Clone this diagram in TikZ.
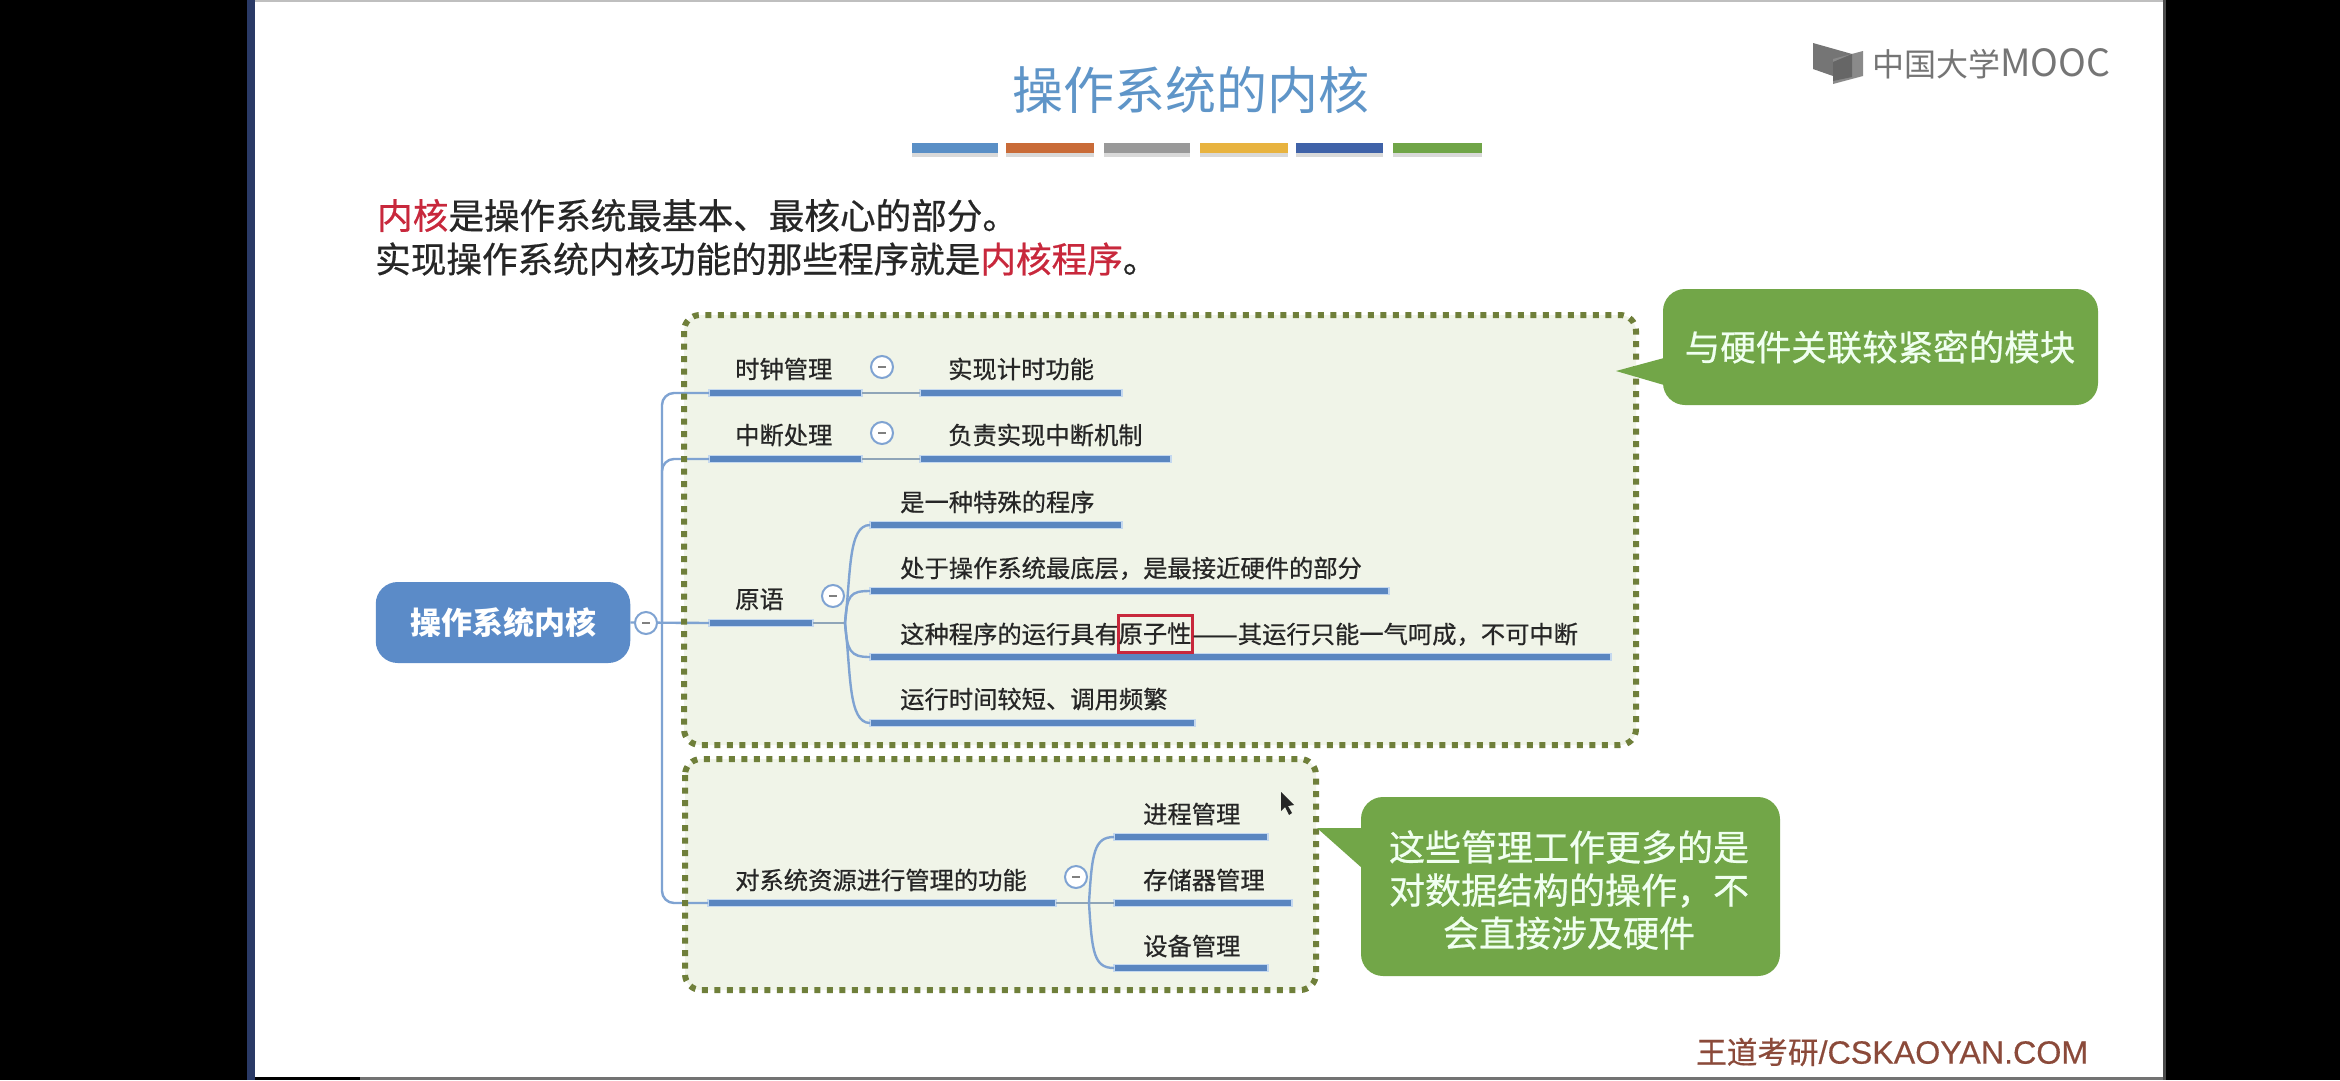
\documentclass[tikz,border=0pt]{standalone}
\usepackage{fontspec}
\setmainfont{Noto Sans CJK SC}
\newfontfamily\semib[FakeBold=0.6]{Noto Sans CJK SC}
\newfontfamily\wlat[FakeBold=0.4]{Liberation Sans}
\definecolor{titleblue}{HTML}{5F95C8}
\definecolor{kernred}{HTML}{C8283C}
\definecolor{barblue}{HTML}{5A86C0}
\definecolor{halo}{HTML}{C4D8EF}
\definecolor{thinblue}{HTML}{7FA3D2}
\definecolor{midgray}{HTML}{8FA5B8}
\definecolor{boxfill}{HTML}{F0F4E8}
\definecolor{boxdot}{HTML}{6F7F3A}
\definecolor{callgreen}{HTML}{72A648}
\definecolor{rootblue}{HTML}{5B8BC8}
\definecolor{navy}{HTML}{2A3A66}
\definecolor{wmark}{HTML}{8B4A3A}
\definecolor{logogray}{HTML}{757575}
\tikzset{
  ubar/.style={rectangle,anchor=west,fill=barblue,draw=halo,line width=1.2pt,minimum height=7.2pt,inner sep=0pt,outer sep=0pt},
  lab/.style={anchor=west,inner sep=0pt,text=black!85,font=\semib\fontsize{24.3}{29}\selectfont,text height=21.4pt,text depth=2.9pt},
  tog/.style={circle,draw=thinblue,line width=2pt,fill=white,minimum size=22pt,inner sep=0pt,
    path picture={\draw[gray,line width=1.6pt] ([xshift=-4pt]path picture bounding box.center) -- ([xshift=4pt]path picture bounding box.center);}},
  thin link/.style={draw=thinblue,line width=2.4pt},
  grey link/.style={draw=midgray,line width=2.4pt},
  dotbox/.style={rounded corners=16pt,draw=boxdot,line width=6pt,dash pattern=on 6pt off 6.5pt},
  callout/.style={rectangle,rounded corners=22pt,fill=callgreen,inner sep=0pt},
  calltext/.style={text=white!94!green,align=center,inner sep=0pt,font=\semib\fontsize{36}{43}\selectfont},
  body text/.style={anchor=west,inner sep=0pt,text=black!85,font=\semib\fontsize{35.6}{42}\selectfont}
}
\begin{document}
\begin{tikzpicture}[x=1pt,y=-1pt]
\useasboundingbox (0,0) rectangle (2340,1080);
% screen and slide
\fill[black] (0,0) rectangle (2340,1080);
\fill[navy] (247,0) rectangle (255,1080);
\fill[white] (255,0) rectangle (2163,1077);
\fill[black!25] (255,0) rectangle (2163,2);
\fill[black!55] (360,1077) rectangle (2166,1080);
\fill[black!70] (2163,0) rectangle (2166,1080);
% logo
\fill[logogray] (1813,43) -- (1852,54) -- (1833,76) -- (1813,69) -- cycle;
\fill[logogray!85] (1833,59) -- (1863,51) -- (1863,76) -- (1833,84) -- cycle;
\fill[black!60] (1833,62) -- (1852,54) -- (1852,77) -- (1833,81) -- cycle;
\node[anchor=west,inner sep=0pt,text=logogray,font=\fontsize{32}{36}\selectfont] (logo) at (1872,64) {中国大学{\fontsize{37.5}{36}\selectfont MOOC}};
% title
\node[inner sep=0pt,text=titleblue,font=\fontsize{51}{60}\selectfont] (title) at (1191,90) {操作系统的内核};
\foreach \a/\b/\c in {912/998/5A8FC6,1006/1094/C96B38,1104/1190/999999,1200/1288/E8B33F,1296/1383/3F62A8,1393/1482/70A548}{
  \definecolor{swc}{HTML}{\c}
  \fill[black!15] (\a,149) rectangle (\b,157);
  \fill[swc] (\a,143) rectangle (\b,153);
}
% intro text
\node[body text] (line1) at (377,215.5) {\textcolor{kernred}{内核}是操作系统最基本、最核心的部分。};
\node[body text] (line2) at (375,259) {实现操作系统内核功能的那些程序就是\textcolor{kernred}{内核程序}。};
% box fills
\fill[boxfill,rounded corners=16pt] (684,315) rectangle (1636,745);
\fill[boxfill,rounded corners=16pt] (685,759) rectangle (1316,990);
% root
\node[rectangle,rounded corners=22pt,fill=rootblue,text=white,minimum width=254.5pt,minimum height=81pt,inner sep=0pt,font=\bfseries\fontsize{31}{36}\selectfont] (root) at (503,622.5) {操作系统内核};
% bars
\node[ubar,minimum width=153pt] (b1) at (709,393) {};
\node[ubar,minimum width=202pt] (b1a) at (920,393) {};
\node[ubar,minimum width=153pt] (b2) at (709,459) {};
\node[ubar,minimum width=251pt] (b2a) at (920,459) {};
\node[ubar,minimum width=104pt] (b3) at (709,623) {};
\node[ubar,minimum width=252pt] (p1) at (870,525) {};
\node[ubar,minimum width=519pt] (p2) at (870,591) {};
\node[ubar,minimum width=741pt] (p3) at (870,657) {};
\node[ubar,minimum width=325pt] (p4) at (870,723) {};
\node[ubar,minimum width=348pt] (b4) at (708,903) {};
\node[ubar,minimum width=154pt] (q1) at (1114,837) {};
\node[ubar,minimum width=178pt] (q2) at (1114,903) {};
\node[ubar,minimum width=154pt] (q3) at (1114,968) {};
\coordinate (trunk) at (662,623);
\coordinate (j3) at (845,623);
\coordinate (j4) at (1089,903);
% connectors
\draw[thin link] (root.east) -- (b3.west);
\draw[thin link,rounded corners=12pt] (trunk) |- (b1.west);
\draw[thin link,rounded corners=12pt] (trunk) |- (b2.west);
\draw[thin link,rounded corners=12pt] (trunk) |- (b4.west);
\draw[grey link] (b1.east) -- (b1a.west);
\draw[grey link] (b2.east) -- (b2a.west);
\draw[grey link] (b3.east) -- (j3);
\draw[grey link] (b4.east) -- (q2.west);
\draw[thin link] (j3) .. controls +(6,-50) and +(-22,0) .. (p1.west);
\draw[thin link] (j3) .. controls +(2,-28) and +(-20,0) .. (p2.west);
\draw[thin link] (j3) .. controls +(2,28) and +(-20,0) .. (p3.west);
\draw[thin link] (j3) .. controls +(6,50) and +(-22,0) .. (p4.west);
\draw[thin link] (j4) .. controls +(3,-50) and +(-20,0) .. (q1.west);
\draw[thin link] (j4) .. controls +(3,50) and +(-20,0) .. (q3.west);
% toggles
\node[tog] (t0) at (646,623) {};
\node[tog] (t1) at (882,367) {};
\node[tog] (t2) at (882,433) {};
\node[tog] (t3) at (833,596) {};
\node[tog] (t4) at (1076,877) {};
% dotted borders
\draw[dotbox] (684,315) rectangle (1636,745);
\draw[dotbox] (685,759) rectangle (1316,990);
% labels
\node[lab] (l1) at (735,369) {时钟管理};
\node[lab] (l1a) at (948,369) {实现计时功能};
\node[lab] (l2) at (735,435) {中断处理};
\node[lab] (l2a) at (948,435) {负责实现中断机制};
\node[lab] (l3) at (735,599) {原语};
\node[lab] (m1) at (900,502) {是一种特殊的程序};
\node[lab] (m2) at (900,568) {处于操作系统最底层，是最接近硬件的部分};
\node[lab] (m3) at (900,634) {这种程序的运行具有};
\node[rectangle,draw=kernred,line width=3pt,minimum width=74pt,minimum height=37pt,inner sep=0pt,text=black!85,font=\semib\fontsize{24.3}{29}\selectfont,text height=21.4pt,text depth=2.9pt] (m3b) at (1155,633.5) {原子性};
\node[lab] (m3c) at (1192.3,634) {\scalebox{1.113}[1]{——}其运行只能一气呵成，不可中断};
\node[lab] (m4) at (900,699) {运行时间较短、调用频繁};
\node[lab] (l4) at (735,880) {对系统资源进行管理的功能};
\node[lab] (n1) at (1143,814) {进程管理};
\node[lab] (n2) at (1143,880) {存储器管理};
\node[lab] (n3) at (1143,946) {设备管理};
% callouts
\node[callout,minimum width=435pt,minimum height=116pt] (c1) at (1880.5,347) {};
\node[calltext,font=\semib\fontsize{35.5}{43}\selectfont] (c1t) at (1880,347) {与硬件关联较紧密的模块};
\coordinate (c1tip) at (1616,371);
\fill[callgreen] (1664,358) -- (c1tip) -- (1664,385) -- cycle;
\node[callout,minimum width=419pt,minimum height=179pt] (c2) at (1570.5,886.5) {};
\node[calltext] (c2t) at (1569,890) {这些管理工作更多的是\\对数据结构的操作，不\\会直接涉及硬件};
\coordinate (c2tip) at (1317,828);
\fill[callgreen] (1362,828) -- (c2tip) -- (1362,868) -- cycle;
% watermark
\node[anchor=west,inner sep=0pt,text=wmark,font=\semib\fontsize{30.6}{36}\selectfont] (wm) at (1696,1052) {王道考研{\wlat\fontsize{32.2}{36}\selectfont /CSKAOYAN.COM}};
% mouse cursor
\fill[black!85] (1281,792) -- (1281,811) -- (1285,807) -- (1289,815) -- (1292,813) -- (1288,806) -- (1294,805) -- cycle;
\end{tikzpicture}
\end{document}
